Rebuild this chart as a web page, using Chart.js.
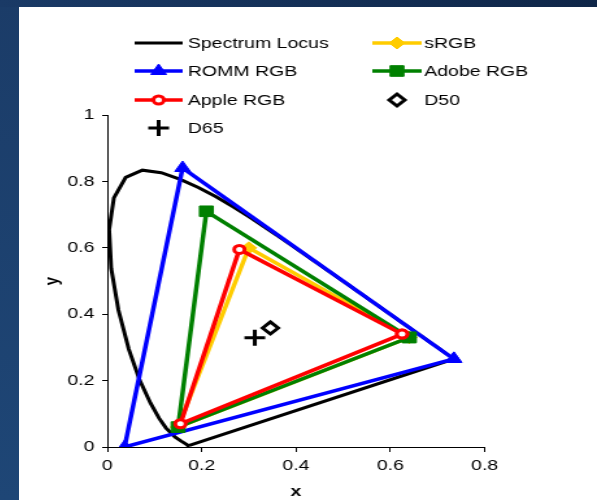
<!DOCTYPE html>
<html>
<head>
<meta charset="utf-8">
<script src="https://cdn.jsdelivr.net/npm/chart.js@4.4.1/dist/chart.umd.min.js"></script>
<style>
  html, body { margin: 0; padding: 0; }
  body {
    width: 597px; height: 500px; overflow: hidden; position: relative;
    background: linear-gradient(to bottom, #1b3c68, #1e4676);
  }
  .topband {
    position: absolute; left: 0; top: 0; width: 597px; height: 7px;
    background: linear-gradient(to right, #1a3a66, #0f2648);
  }
  .panel {
    position: absolute; left: 19px; top: 7px; width: 578px; height: 493px;
    background: #fff; overflow: hidden;
  }
  /* the reference is stretched sideways, so draw narrow and widen it */
  .stretch {
    width: 445px; height: 493px;
    transform: scaleX(1.2989); transform-origin: 0 0;
  }
</style>
</head>
<body>
<div class="topband"></div>
<div class="panel">
  <div class="stretch">
    <canvas id="chart" width="445" height="493"></canvas>
  </div>
</div>
<script>
// CIE 1931 spectrum locus (x, y), closed back to the start
const locusX = [0.1741, 0.1733, 0.1714, 0.1689, 0.1644, 0.1566, 0.1440, 0.1241, 0.1096, 0.0913,
  0.0687, 0.0454, 0.0235, 0.0082, 0.0039, 0.0139, 0.0389, 0.0743, 0.1142, 0.1547, 0.1929,
  0.2296, 0.2658, 0.3016, 0.3373, 0.3731, 0.4441, 0.5125, 0.5752, 0.6270, 0.6658, 0.6915,
  0.7190, 0.7347, 0.1741];
const locusY = [0.0050, 0.0048, 0.0051, 0.0069, 0.0109, 0.0177, 0.0297, 0.0578, 0.0868, 0.1327,
  0.2007, 0.2950, 0.4127, 0.5384, 0.6548, 0.7502, 0.8120, 0.8338, 0.8262, 0.8059, 0.7816,
  0.7543, 0.7243, 0.6923, 0.6589, 0.6245, 0.5547, 0.4866, 0.4242, 0.3725, 0.3340, 0.3083,
  0.2809, 0.2653, 0.0050];

// gamut triangles: R, G, B, back to R
const srgbX = [0.64, 0.30, 0.15, 0.64];
const srgbY = [0.33, 0.60, 0.06, 0.33];
const rommX = [0.7347, 0.1596, 0.0366, 0.7347];
const rommY = [0.2653, 0.8404, 0.0001, 0.2653];
const adobeX = [0.64, 0.21, 0.15, 0.64];
const adobeY = [0.33, 0.71, 0.06, 0.33];
const appleX = [0.625, 0.28, 0.155, 0.625];
const appleY = [0.34, 0.595, 0.07, 0.34];

// white points
const d50X = [0.3457];
const d50Y = [0.3585];
const d65X = [0.3127];
const d65Y = [0.3290];

const xTicks = [0, 0.2, 0.4, 0.6, 0.8];
const xTickLabels = ['0', '0.2', '0.4', '0.6', '0.8'];
const yTicks = [0, 0.2, 0.4, 0.6, 0.8, 1];
const yTickLabels = ['0', '0.2', '0.4', '0.6', '0.8', '1'];

const FONT = "'Liberation Sans', Arial, sans-serif";

const pts = (xs, ys) => xs.map((x, i) => ({ x: x, y: ys[i] }));

const datasets = [
  {
    label: 'Spectrum Locus', data: pts(locusX, locusY), showLine: true,
    borderColor: '#000', borderWidth: 3, pointRadius: 0, order: 7
  },
  {
    label: 'sRGB', data: pts(srgbX, srgbY), showLine: true,
    borderColor: '#FFCC00', borderWidth: 3.5, pointStyle: 'rectRot', pointRadius: 6,
    pointBackgroundColor: '#FFCC00', pointBorderColor: '#FFCC00', pointBorderWidth: 1, order: 6
  },
  {
    label: 'ROMM RGB', data: pts(rommX, rommY), showLine: true,
    borderColor: '#0000FF', borderWidth: 3.5, pointStyle: 'triangle', pointRadius: 7,
    pointBackgroundColor: '#0000FF', pointBorderColor: '#0000FF', pointBorderWidth: 1, order: 5
  },
  {
    label: 'Adobe RGB', data: pts(adobeX, adobeY), showLine: true,
    borderColor: '#008000', borderWidth: 3.5, pointStyle: 'rect', pointRadius: 7.5,
    pointBackgroundColor: '#008000', pointBorderColor: '#008000', pointBorderWidth: 1, order: 4
  },
  {
    label: 'Apple RGB', data: pts(appleX, appleY), showLine: true,
    borderColor: '#FF0000', borderWidth: 3.5, pointStyle: 'circle', pointRadius: 4,
    pointBackgroundColor: '#fff', pointBorderColor: '#FF0000', pointBorderWidth: 3, order: 3
  },
  {
    label: 'D50', data: pts(d50X, d50Y), showLine: false,
    pointStyle: 'rectRot', pointRadius: 6, pointBackgroundColor: '#fff',
    pointBorderColor: '#000', pointBorderWidth: 3, order: 2
  },
  {
    label: 'D65', data: pts(d65X, d65Y), showLine: false,
    pointStyle: 'cross', pointRadius: 8, pointBackgroundColor: '#000',
    pointBorderColor: '#000', pointBorderWidth: 3, order: 1
  }
];

// legend drawn on the canvas: two columns, filled row by row
const legendPlugin = {
  id: 'gamutLegend',
  afterDraw(chart) {
    const ctx = chart.ctx;
    const rows = [36, 64, 93, 121];
    const cols = [{ x1: 89, x2: 126, tx: 130 }, { x1: 272, x2: 310, tx: 312 }];
    ctx.save();
    chart.data.datasets.forEach((ds, i) => {
      const col = cols[i % 2];
      const y = rows[Math.floor(i / 2)];
      const mid = (col.x1 + col.x2) / 2;
      if (ds.showLine) {
        ctx.strokeStyle = ds.borderColor;
        ctx.lineWidth = ds.borderWidth;
        ctx.beginPath();
        ctx.moveTo(col.x1, y);
        ctx.lineTo(col.x2, y);
        ctx.stroke();
      }
      if (ds.pointRadius > 0) {
        ctx.fillStyle = ds.pointBackgroundColor;
        ctx.strokeStyle = ds.pointBorderColor;
        ctx.lineWidth = ds.pointBorderWidth;
        Chart.helpers.drawPoint(ctx, {
          pointStyle: ds.pointStyle, radius: ds.pointRadius,
          borderWidth: ds.pointBorderWidth, rotation: 0
        }, mid, y);
      }
      ctx.fillStyle = '#000';
      ctx.font = '15px ' + FONT;
      ctx.textAlign = 'left';
      ctx.textBaseline = 'middle';
      ctx.fillText(ds.label, col.tx, y + 1);
    });
    ctx.restore();
  }
};

new Chart(document.getElementById('chart'), {
  type: 'scatter',
  data: { datasets: datasets },
  options: {
    responsive: false,
    animation: false,
    events: [],
    layout: { padding: { top: 108, right: 86.5, left: 0, bottom: 0 } },
    elements: { line: { tension: 0, fill: false } },
    plugins: { legend: { display: false }, tooltip: { enabled: false } },
    scales: {
      x: {
        type: 'linear', position: 'bottom', min: 0, max: 0.8,
        afterBuildTicks: s => { s.ticks = xTicks.map(v => ({ value: v })); },
        afterFit: s => { s.height = 53; },
        ticks: {
          autoSkip: false, maxRotation: 0, padding: 5, color: '#000',
          font: { family: FONT, size: 15 },
          callback: (v, i) => xTickLabels[i]
        },
        grid: { drawOnChartArea: false, drawTicks: true, tickLength: 5, tickColor: '#000' },
        border: { display: true, color: '#000', width: 1 },
        title: {
          display: true, text: 'x', color: '#000',
          font: { family: FONT, size: 15, weight: 'bold', lineHeight: 1 },
          padding: { top: 0, bottom: 1 }
        }
      },
      y: {
        type: 'linear', position: 'left', min: 0, max: 1,
        afterBuildTicks: s => { s.ticks = yTicks.map(v => ({ value: v })); },
        afterFit: s => { s.width = 68; },
        ticks: {
          autoSkip: false, padding: 6, color: '#000',
          font: { family: FONT, size: 15 },
          callback: (v, i) => yTickLabels[i]
        },
        grid: { drawOnChartArea: false, drawTicks: true, tickLength: 4, tickColor: '#000' },
        border: { display: true, color: '#000', width: 1 },
        title: {
          display: true, text: 'y', color: '#000',
          font: { family: FONT, size: 15, weight: 'bold', lineHeight: 1.2 },
          padding: { top: 17, bottom: 0 }
        }
      }
    }
  },
  plugins: [legendPlugin]
});
</script>
</body>
</html>
